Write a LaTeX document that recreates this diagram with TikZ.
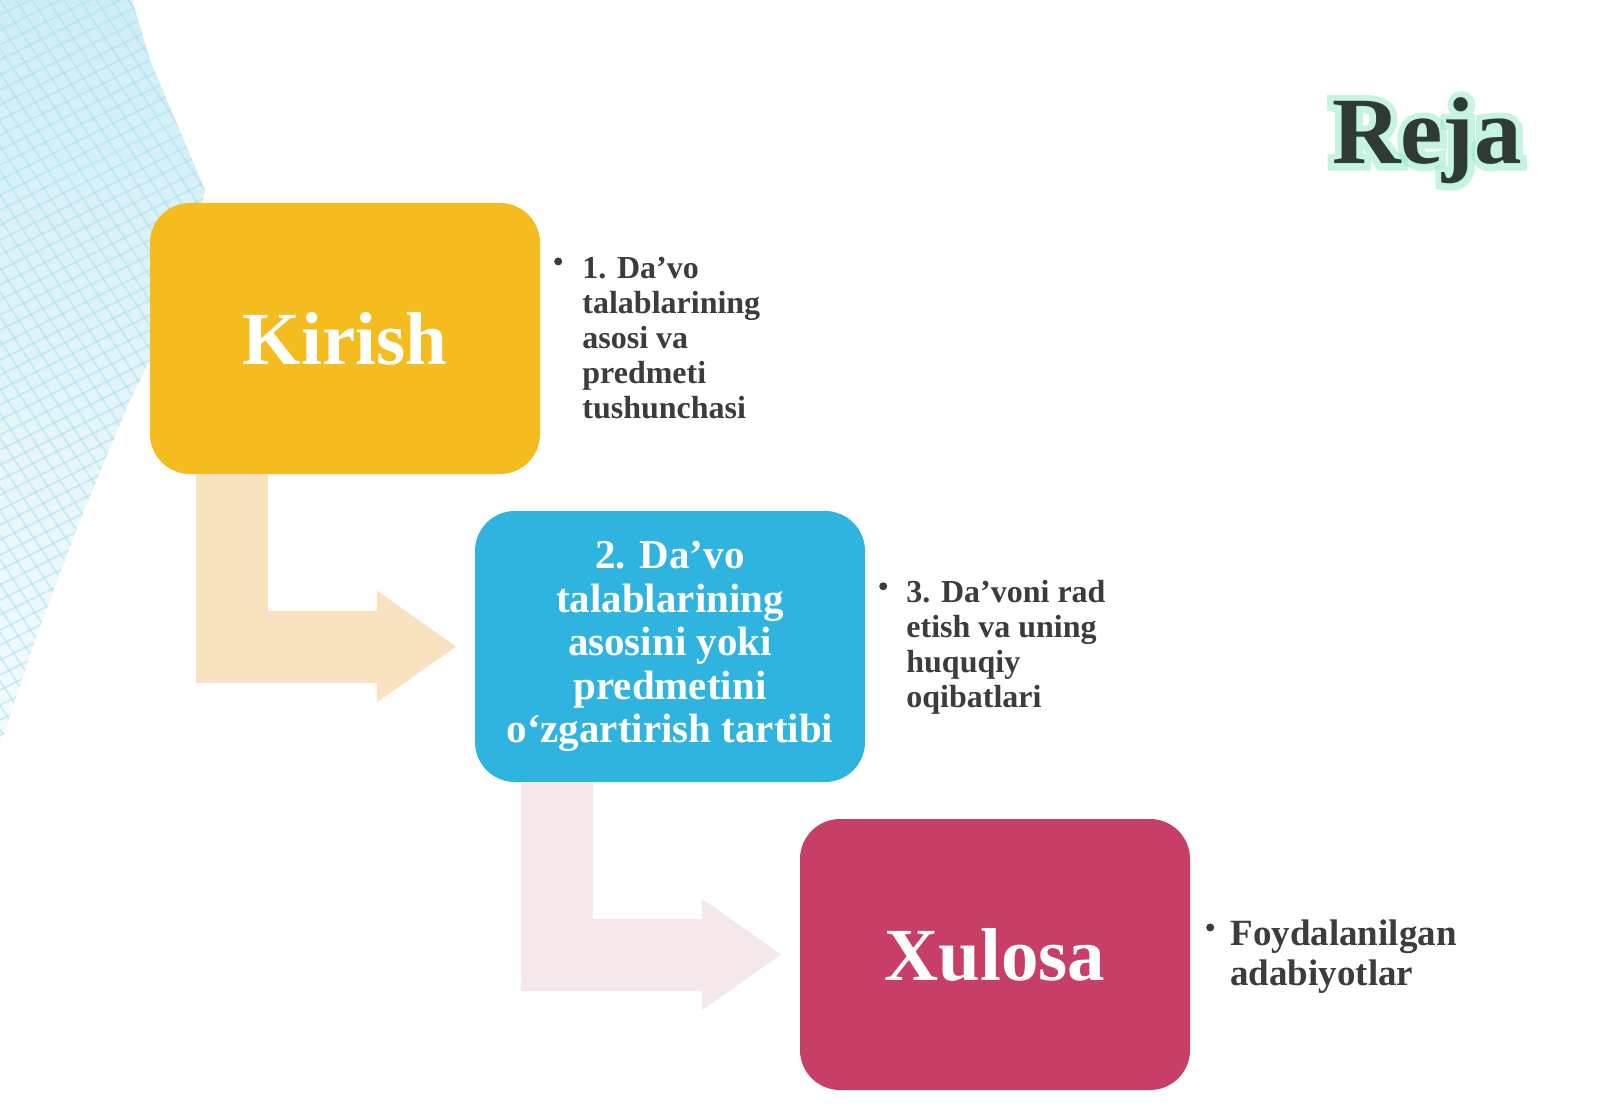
\documentclass[tikz,border=0pt]{standalone}
\usepackage{fontspec}
\setmainfont{Liberation Serif}
\newfontfamily\rejaglowfont{Liberation Serif}[BoldFeatures={FakeBold=14}]
\usetikzlibrary{arrows.meta,calc}
\definecolor{kirishyellow}{HTML}{F4BC1E}
\definecolor{davoblue}{HTML}{2FB4E0}
\definecolor{xulosared}{HTML}{C73F66}
\definecolor{fadeorange}{HTML}{F8E2BF}
\definecolor{fadepink}{HTML}{F5E7EA}
\definecolor{textgray}{HTML}{3C3C3C}
\definecolor{rejadark}{HTML}{2F3A33}
\definecolor{rejaglow}{HTML}{8FEBC3}
\definecolor{meshcyan}{HTML}{A9DFEF}
\begin{document}
\begin{tikzpicture}[x=1pt,y=-1pt,
  stepbox/.style={rounded corners=40pt,minimum width=390pt,minimum height=271pt,inner sep=0pt,
    text=white,align=center,font=\bfseries\fontsize{41}{43.5}\selectfont},
  bigword/.style={font=\bfseries\fontsize{75}{80}\selectfont},
  bullettext/.style={anchor=west,inner sep=0pt,align=left,text=textgray,
    font=\bfseries\fontsize{32}{35}\selectfont},
  bulletdot/.style={circle,fill=textgray,inner sep=0pt,minimum size=8pt},
  bentarrow/.style={line width=72pt,-{Triangle[length=80pt,width=106pt]}},
  meshline/.style={meshcyan,line width=1.8pt,opacity=0.5},
  rejatext/.style={font=\bfseries\fontsize{95}{100}\selectfont,anchor=center,inner sep=0pt}]
  \useasboundingbox [fill=white] (0,0) rectangle (1600,1107);
  % mesh in the top left corner
  \begin{scope}
    \clip (0,0) -- (132,0) -- (150,60) -- (205,190) -- (180,300) -- (130,400)
      -- (80,520) -- (35,640) -- (0,745) -- cycle;
    \shade [top color=meshcyan!55,bottom color=meshcyan!12] (0,0) rectangle (220,760);
    \foreach \k in {-800,-784,...,300}
      \draw [meshline] (\k,0) -- ++(500,760);
    \foreach \k in {0,15,...,1000}
      \draw [meshline] (0,\k) -- ++(260,-130);
  \end{scope}
  % title with its glow
  \coordinate (rejamid) at (1427,141);
  \node [rejatext,text=rejaglow,opacity=0.5,font=\rejaglowfont\bfseries\fontsize{95}{100}\selectfont]
    (rejahalo) at (rejamid) {Reja};
  \node [rejatext,text=rejadark] (reja) at (rejamid) {Reja};
  % steps
  \node [stepbox,bigword,fill=kirishyellow] (kirish) at (345,338.5) {Kirish};
  \node [stepbox,fill=davoblue] (davo) at (670,646.5)
    {2. Da’vo\\talablarining\\asosini yoki\\predmetini\\o‘zgartirish tartibi};
  \node [stepbox,bigword,fill=xulosared] (xulosa) at (995,954.5) {Xulosa};
  % bent arrows
  \draw [bentarrow,fadeorange] ([xshift=-113]kirish.south) |- ([xshift=-18]davo.west);
  \draw [bentarrow,fadepink] ([xshift=-113]davo.south) |- ([xshift=-18]xulosa.west);
  % bullet texts
  \node [bullettext] (b1) at ([xshift=42]kirish.east)
    {1. Da’vo\\talablarining\\asosi va\\predmeti\\tushunchasi};
  \node [bullettext] (b3) at ([xshift=41,yshift=-1]davo.east)
    {3. Da’voni rad\\etish va uning\\huquqiy\\oqibatlari};
  \node [bullettext,font=\bfseries\fontsize{37}{40}\selectfont] (b4) at ([xshift=40,yshift=-2]xulosa.east)
    {Foydalanilgan\\adabiyotlar};
  \node [bulletdot] (d1) at ($(b1.north west)+(-24,4)$) {};
  \node [bulletdot] (d3) at ($(b3.north west)+(-23,6)$) {};
  \node [bulletdot] (d4) at ($(b4.north west)+(-20,8)$) {};
\end{tikzpicture}
\end{document}
